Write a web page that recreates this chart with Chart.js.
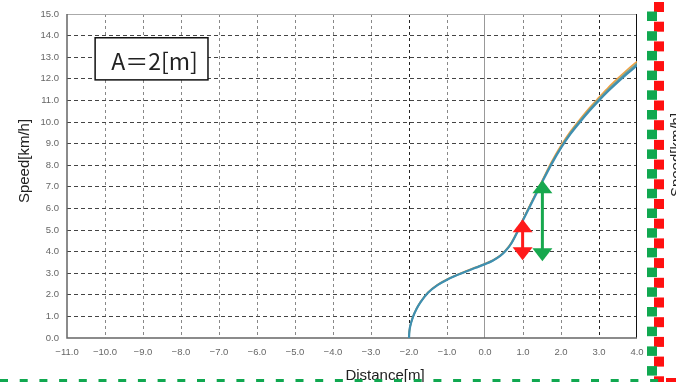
<!DOCTYPE html>
<html lang="ja">
<head>
  <meta charset="UTF-8">
  <title>Speed vs Distance</title>
  <script src="https://cdn.jsdelivr.net/npm/chart.js"></script>
  <style>
    html, body { margin: 0; padding: 0; background: #fff; }
    #chart-container { width: 676px; height: 382px; position: relative; }
  </style>
</head>
<body>
  <div id="chart-container">
    <canvas id="speedChart"></canvas>
  </div>

  <script>
  // distance [m] and the three overlapping speed traces [km/h]
  const distance    = [-2.0, -1.99, -1.96, -1.9, -1.8, -1.7, -1.5, -1.25, -1.0, -0.75, -0.5, -0.25, 0.0, 0.2, 0.4, 0.55, 0.7, 0.85, 1.0, 1.25, 1.5, 1.75, 2.0, 2.25, 2.5, 2.75, 3.0, 3.25, 3.5, 3.75, 4.0];
  const speedBlue   = [0.0, 0.3, 0.6, 0.95, 1.35, 1.65, 2.1, 2.45, 2.7, 2.9, 3.08, 3.25, 3.42, 3.58, 3.8, 4.05, 4.4, 4.9, 5.45, 6.33, 7.2, 8.05, 8.8, 9.45, 10.0, 10.52, 11.0, 11.45, 11.86, 12.25, 12.62];
  const speedGray   = [0.0, 0.3, 0.6, 0.95, 1.35, 1.65, 2.1, 2.45, 2.7, 2.9, 3.08, 3.25, 3.42, 3.58, 3.8, 4.05, 4.4, 4.9, 5.47, 6.36, 7.24, 8.1, 8.85, 9.51, 10.07, 10.59, 11.07, 11.53, 11.94, 12.34, 12.71];
  const speedOrange = [0.0, 0.32, 0.62, 0.97, 1.37, 1.67, 2.12, 2.47, 2.72, 2.92, 3.1, 3.27, 3.44, 3.6, 3.82, 4.08, 4.44, 4.95, 5.5, 6.4, 7.28, 8.15, 8.91, 9.57, 10.13, 10.66, 11.14, 11.61, 12.03, 12.43, 12.8];

  // double arrows (red / green) and the label box
  const arrowX     = [0.99, 1.51];
  const arrowLow   = [3.6, 3.55];
  const arrowHigh  = [5.5, 7.3];
  const arrowColor = ['#ff1a1a', '#17a84e'];
  const boxLabel = 'A＝2[m]';
  const boxX = [-10.26, -7.29];
  const boxY = [11.95, 13.9];

  const xTitle = 'Distance[m]';
  const yTitle = 'Speed[km/h]';

  function fmt(v) {
    return v.toFixed(1).replace('-', '−');
  }

  function toPoints(ys) {
    return distance.map((x, i) => ({ x: x, y: ys[i] }));
  }

  function drawArrow(ctx, px, yTop, yBot, color) {
    const head = 13, half = 10;
    ctx.save();
    ctx.strokeStyle = color;
    ctx.fillStyle = color;
    ctx.lineWidth = 3;
    ctx.beginPath();
    ctx.moveTo(px, yTop + head - 2);
    ctx.lineTo(px, yBot - head + 2);
    ctx.stroke();
    ctx.beginPath();
    ctx.moveTo(px, yTop);
    ctx.lineTo(px - half, yTop + head);
    ctx.lineTo(px + half, yTop + head);
    ctx.closePath();
    ctx.fill();
    ctx.beginPath();
    ctx.moveTo(px, yBot);
    ctx.lineTo(px - half, yBot - head);
    ctx.lineTo(px + half, yBot - head);
    ctx.closePath();
    ctx.fill();
    ctx.restore();
  }

  const decor = {
    id: 'decor',
    beforeDatasetsDraw(chart) {
      const { ctx, chartArea: a } = chart;
      ctx.save();
      ctx.lineWidth = 1;
      ctx.strokeStyle = '#aaa';
      ctx.beginPath(); ctx.moveTo(a.left, a.top + 0.5); ctx.lineTo(a.right, a.top + 0.5); ctx.stroke();
      ctx.strokeStyle = '#111';
      ctx.beginPath(); ctx.moveTo(a.right - 0.5, a.top); ctx.lineTo(a.right - 0.5, a.bottom); ctx.stroke();
      ctx.lineWidth = 1.5;
      ctx.strokeStyle = '#666';
      ctx.beginPath(); ctx.moveTo(a.left, a.top); ctx.lineTo(a.left, a.bottom); ctx.lineTo(a.right, a.bottom); ctx.stroke();
      ctx.restore();
    },
    afterDraw(chart) {
      const { ctx, scales: { x, y } } = chart;
      ctx.save();

      // label box
      const bx1 = x.getPixelForValue(boxX[0]), bx2 = x.getPixelForValue(boxX[1]);
      const by1 = y.getPixelForValue(boxY[1]), by2 = y.getPixelForValue(boxY[0]);
      ctx.fillStyle = '#fff';
      ctx.fillRect(bx1, by1, bx2 - bx1, by2 - by1);
      ctx.strokeStyle = '#111';
      ctx.lineWidth = 1.5;
      ctx.strokeRect(bx1, by1, bx2 - bx1, by2 - by1);
      ctx.fillStyle = '#222';
      ctx.font = '23px "Noto Sans CJK JP", "Liberation Sans", sans-serif';
      ctx.textAlign = 'center';
      ctx.textBaseline = 'alphabetic';
      ctx.fillText(boxLabel, (bx1 + bx2) / 2 + 3, by2 - 10);

      // arrows
      arrowX.forEach((ax, i) => {
        drawArrow(ctx, x.getPixelForValue(ax), y.getPixelForValue(arrowHigh[i]), y.getPixelForValue(arrowLow[i]), arrowColor[i]);
      });

      // axis titles
      ctx.fillStyle = '#222';
      ctx.font = '15px "Liberation Sans", sans-serif';
      ctx.textAlign = 'center';
      ctx.fillText(xTitle, 385, 380);
      ctx.save();
      ctx.translate(29, 161);
      ctx.rotate(-Math.PI / 2);
      ctx.fillText(yTitle, 0, 0);
      ctx.restore();
      // clipped title of the neighbouring chart
      ctx.save();
      ctx.translate(681, 155);
      ctx.rotate(-Math.PI / 2);
      ctx.fillText(yTitle, 0, 0);
      ctx.restore();

      // red/green dashed frame
      for (let k = 0; k < 20; k++) {
        const t = 2 + k * 19.7;
        ctx.fillStyle = '#ff1010';
        ctx.fillRect(654, t, 10, 10);
        ctx.fillStyle = '#10a850';
        ctx.fillRect(647, t + 9.5, 10, 9.5);
      }
      ctx.fillStyle = '#10a850';
      for (let k = 0; k < 34; k++) {
        ctx.fillRect(k * 19.7, 379, 8, 3);
      }
      ctx.fillStyle = '#ff1010';
      ctx.fillRect(666, 378, 10, 4);
      ctx.restore();
    }
  };

  const config = {
    type: 'line',
    data: {
      datasets: [
        { label: 'blue', data: toPoints(speedBlue), borderColor: '#3f8fb0', borderWidth: 2.2, order: 1 },
        { label: 'gray', data: toPoints(speedGray), borderColor: '#7aa08c', borderWidth: 1.6, order: 2 },
        { label: 'orange', data: toPoints(speedOrange), borderColor: '#f0a040', borderWidth: 1.6, order: 3 }
      ].map(d => Object.assign(d, { pointRadius: 0, cubicInterpolationMode: 'monotone', fill: false }))
    },
    options: {
      responsive: true,
      maintainAspectRatio: false,
      animation: false,
      layout: { padding: { left: 0, top: 14, right: 39, bottom: 0 } },
      plugins: { legend: { display: false }, tooltip: { enabled: false } },
      scales: {
        x: {
          type: 'linear',
          min: -11, max: 4,
          afterFit(scale) { scale.height = 44; },
          ticks: {
            stepSize: 1,
            padding: 9,
            color: '#666',
            font: { family: '"Liberation Sans", sans-serif', size: 9.5 },
            maxRotation: 0,
            callback: v => fmt(v)
          },
          grid: {
            drawTicks: false,
            lineWidth: 1,
            color: ctx => {
              const v = ctx.tick && ctx.tick.value;
              if (v === -11 || v === 4) return 'rgba(0,0,0,0)';
              if (v === 0) return '#999';
              if (v === -2 || v === 3) return '#222';
              return '#888';
            }
          },
          border: { display: false, dash: ctx => (ctx.tick && ctx.tick.value === 0) ? [] : [3, 3] }
        },
        y: {
          min: 0, max: 15,
          afterFit(scale) { scale.width = 67; },
          ticks: {
            stepSize: 1,
            padding: 8,
            color: '#666',
            font: { family: '"Liberation Sans", sans-serif', size: 9.5 },
            callback: v => fmt(v)
          },
          grid: {
            drawTicks: false,
            lineWidth: 1,
            color: ctx => {
              const v = ctx.tick && ctx.tick.value;
              if (v === 0 || v === 15) return 'rgba(0,0,0,0)';
              return '#444';
            }
          },
          border: { display: false, dash: [4, 3] }
        }
      }
    },
    plugins: [decor]
  };

  new Chart(document.getElementById('speedChart'), config);
  </script>
</body>
</html>
